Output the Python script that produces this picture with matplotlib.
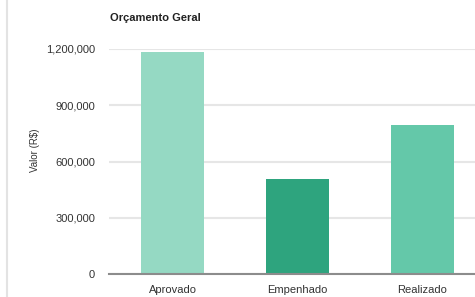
import matplotlib
matplotlib.use("Agg")
import matplotlib.pyplot as plt
from matplotlib.lines import Line2D
from matplotlib.ticker import FuncFormatter

categories = ["Aprovado", "Empenhado", "Realizado"]
values = [1183000, 506000, 794000]
colors = ["#95d9c3", "#2ea47e", "#64c8a9"]
yticks = [0, 300000, 600000, 900000, 1200000]

plt.rcParams['font.family'] = ['Liberation Sans', 'DejaVu Sans']

fig = plt.figure(figsize=(4.75, 2.97), dpi=100)
fig.patch.set_facecolor("white")
W, H = 475, 297
ax = fig.add_axes([109 / W, 1 - 274 / H, 1 - 109 / W, (274 - 49) / H])

x = list(range(len(categories)))
ax.bar(x, values, width=0.5, color=colors, zorder=3)
ax.set_xlim(-0.51, 2.42)
ax.set_ylim(0, 1200000)
ax.set_yticks(yticks)
ax.yaxis.set_major_formatter(FuncFormatter(lambda v, p: f"{int(v):,}"))
ax.set_xticks(x)
ax.set_xticklabels(categories)

ax.grid(axis="y", color="#e6e6e6", linewidth=1.5, zorder=0)
ax.set_axisbelow(True)
for s in ["top", "right", "left"]:
    ax.spines[s].set_visible(False)
ax.spines["bottom"].set_color("#8c8c8c")
ax.spines["bottom"].set_linewidth(1.5)
ax.spines["bottom"].set_zorder(4)
ax.tick_params(axis="both", length=0, labelsize=8, colors="#333333")
ax.tick_params(axis="y", pad=10)
ax.tick_params(axis="x", pad=8)
ax.set_clip_on(False)

fig.text(110 / W, 1 - 18 / H, "Orçamento Geral", fontsize=8, fontweight="bold",
         ha="left", va="center", color="#222222")
fig.text(35 / W, 1 - 150 / H, "Valor (R$)", fontsize=7, rotation=90,
         ha="center", va="center", color="#333333")

fig.add_artist(Line2D([7 / W, 7 / W], [0, 1], color="#e3e3e3", linewidth=1.5,
                      transform=fig.transFigure))

fig.savefig("out.png", dpi=100)
